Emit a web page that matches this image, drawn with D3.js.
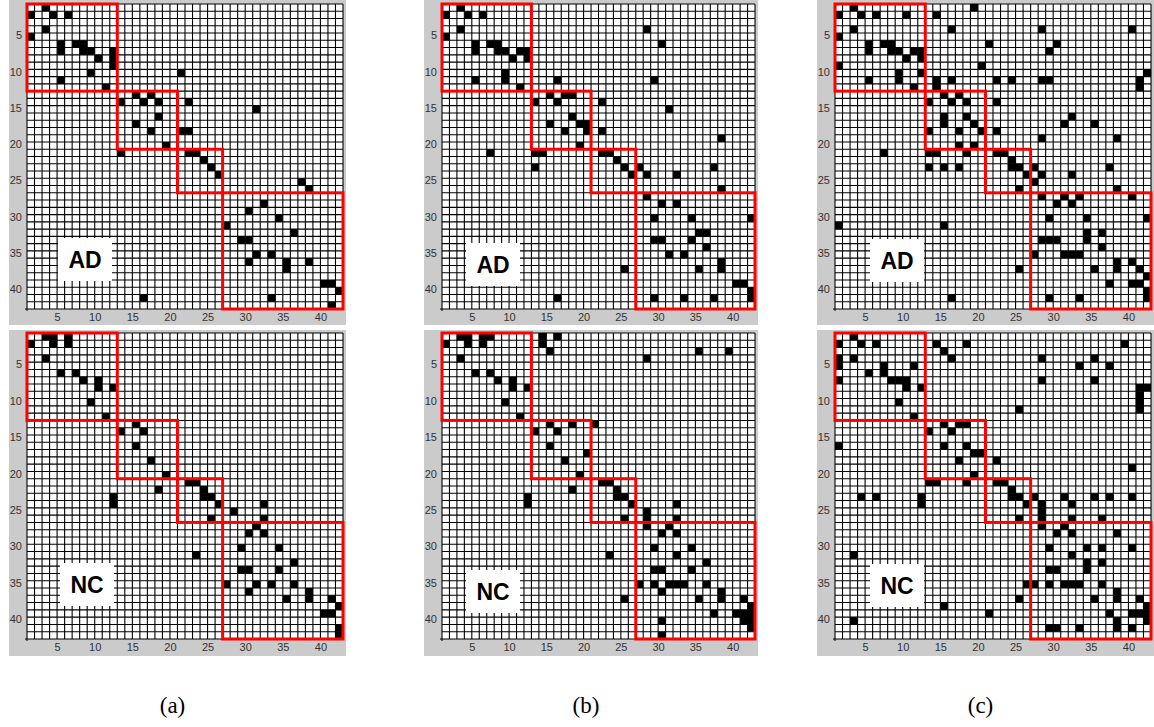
<!DOCTYPE html>
<html>
<head>
<meta charset="utf-8">
<script src="https://cdn.jsdelivr.net/npm/d3@7"></script>
<style>
body { margin: 0; background: #fff; }
svg { display: block; }
</style>
</head>
<body>
<svg id="fig" width="1154" height="727"></svg>
<script>

//black cells of each 42x42 matrix, [row, col], 1-based
var adA = [[1,3],[2,1],[2,4],[2,6],[4,3],[5,1],[6,5],[7,5],[6,7],[6,8],[7,8],[7,9],[8,10],[7,12],[8,12],[9,12],[10,9],[11,5],[12,11],[10,21],
  [14,13],[13,15],[14,16],[13,17],[14,18],[14,22],[15,31],[16,18],[17,15],[18,17],[18,21],[18,22],[20,19],[21,13],
  [21,22],[21,23],[22,24],[23,25],[24,26],[25,37],[26,38],
  [28,32],[29,30],[30,34],[31,27],[32,36],[33,29],[33,30],[35,31],[35,33],[36,30],[36,35],[37,35],[36,38],[39,40],[39,41],[40,42],[41,33],[42,41],[41,16]];

var ncA = [[2,1],[1,3],[1,4],[2,4],[1,6],[2,6],[4,3],[6,5],[6,7],[7,8],[7,10],[8,10],[8,12],[10,9],[12,11],
  [14,13],[13,15],[14,16],[16,15],[18,17],[20,19],[22,18],[23,12],[24,12],
  [21,22],[21,23],[22,24],[23,24],[23,25],[24,26],[26,25],[25,28],[24,32],[26,32],
  [27,31],[28,30],[28,32],[30,29],[30,34],[32,36],[33,29],[33,30],[33,34],[35,27],[35,31],[35,33],[35,36],[36,30],[37,35],[36,38],[37,38],[37,41],[39,40],[39,41],[38,42],[41,42],[42,42],[31,23]];

var adB = [[1,3],[2,1],[2,4],[2,6],[4,3],[5,1],[6,5],[7,5],[6,7],[6,8],[7,8],[7,9],[8,10],[7,11],[7,12],[8,12],[10,9],[11,9],[11,5],[12,11],[4,28],[6,30],[11,16],[11,29],
  [14,13],[13,15],[13,17],[13,18],[14,16],[14,22],[15,31],[16,18],[17,15],[17,19],[17,20],[18,17],[18,20],[18,22],[20,19],[19,38],[21,7],[21,13],[21,14],[23,13],
  [21,22],[21,23],[22,24],[23,25],[24,26],[23,27],[24,28],[24,32],[23,37],[26,38],
  [27,28],[28,30],[28,32],[30,29],[30,34],[30,42],[32,35],[32,36],[33,29],[33,30],[33,34],[34,36],[35,31],[35,33],[37,25],[37,35],[36,38],[37,38],[39,40],[39,41],[40,42],[41,42],[41,16],[41,29],[41,33],[41,37]];

var ncB = [[1,3],[1,4],[1,6],[1,7],[1,14],[1,16],[2,1],[2,4],[2,6],[2,14],[3,15],[3,35],[3,39],[4,3],[4,28],[6,5],[6,7],[7,8],[7,10],[8,10],[8,12],[10,9],[12,11],
  [13,15],[13,18],[13,21],[14,13],[14,16],[16,15],[17,20],[18,17],[20,19],
  [21,22],[21,23],[22,18],[22,24],[23,12],[23,24],[23,25],[24,12],[24,26],[24,32],[25,28],[26,25],[26,28],[26,32],
  [27,28],[27,31],[28,30],[28,32],[30,29],[30,34],[31,23],[31,32],[32,36],[33,29],[33,30],[33,34],[35,27],[35,29],[35,31],[35,32],[35,33],[35,36],[36,30],[36,38],
  [37,25],[37,35],[37,38],[37,41],[38,42],[39,37],[39,40],[39,41],[39,42],[40,41],[40,42],[40,30],[41,42],[42,30]];

var adC = [[1,3],[1,19],[2,1],[2,4],[2,6],[2,10],[2,14],[4,3],[4,16],[4,28],[4,40],[5,1],[6,5],[6,7],[6,8],[6,21],[6,30],[7,5],[7,8],[7,9],[7,11],[7,12],[7,29],
  [8,10],[8,12],[9,1],[9,20],[10,9],[10,12],[10,42],[11,5],[11,9],[11,14],[11,16],[11,22],[11,24],[11,28],[11,29],[11,41],[12,11],[12,14],[12,41],
  [13,15],[13,17],[14,13],[14,16],[14,18],[14,22],[16,15],[16,18],[16,32],[17,15],[17,19],[17,31],[17,35],[18,13],[18,17],[18,20],[18,22],[19,28],[19,38],[20,17],[20,19],
  [21,7],[21,13],[21,14],[21,18],[21,22],[21,23],[22,24],[23,13],[23,15],[23,17],[23,24],[23,25],[23,27],[23,37],[24,26],[24,28],[24,32],[25,27],[26,25],[26,38],
  [27,28],[27,31],[27,33],[27,40],[28,30],[28,32],[30,29],[30,34],[30,42],[31,1],[31,15],[32,34],[32,36],[33,28],[33,29],[33,30],[33,34],[34,36],
  [35,27],[35,31],[35,32],[35,33],[36,38],[36,40],[37,25],[37,35],[37,38],[37,41],[38,42],[39,37],[39,40],[39,41],[40,42],[41,42],[41,16],[41,29],[41,33]];

var ncC = [[1,3],[2,1],[2,4],[2,6],[2,14],[2,18],[2,39],[3,15],[4,1],[4,3],[4,16],[4,28],[4,35],[5,1],[5,7],[5,11],[5,33],[5,37],[6,5],[6,7],
  [7,1],[7,8],[7,9],[7,10],[7,28],[7,35],[8,10],[8,12],[8,41],[8,42],[9,41],[10,9],[10,41],[11,25],[11,41],[12,11],
  [13,15],[13,17],[13,18],[14,13],[14,16],[16,1],[16,15],[16,18],[17,19],[17,20],[18,17],[18,22],[19,40],[20,19],
  [21,13],[21,14],[21,18],[21,22],[21,23],[22,24],[23,4],[23,6],[23,12],[23,24],[23,25],[23,27],[23,31],[23,35],[23,37],[23,40],
  [24,12],[24,26],[24,28],[24,32],[25,28],[26,25],[26,28],[26,32],[26,36],[27,28],[27,31],[28,30],[28,32],[28,38],
  [30,29],[30,34],[30,36],[30,40],[31,3],[31,32],[32,34],[32,36],[33,29],[33,30],[33,34],
  [35,26],[35,27],[35,29],[35,31],[35,32],[35,33],[35,36],[36,38],[37,25],[37,35],[37,38],[37,41],[38,15],[38,42],
  [39,21],[39,37],[39,40],[39,41],[39,42],[40,3],[40,38],[40,42],[41,29],[41,30],[41,33],[41,38],[41,40]];

var N = 42;
var tickVals = [5, 10, 15, 20, 25, 30, 35, 40];
var blockEdges = [0, 12, 20, 26, 42];   //red boxes along the diagonal
var groups = ["AD", "NC"];
var captions = ["(a)", "(b)", "(c)"];
var matrices = [[adA, ncA], [adB, ncB], [adC, ncC]];

//where each grid sits on the page
var colPos = [{x0: 27, x1: 343}, {x0: 442, x1: 755}, {x0: 835, x1: 1151}];
var rowPos = [{y0: 4, y1: 309, bg0: 0, bg1: 325}, {y0: 333, y1: 639, bg0: 330, bg1: 656}];
//white label box offset from grid corner (px)
var boxOff = [[[31, 234], [33, 230]], [[24, 239], [24, 237]], [[35, 235], [35, 231]]];

var svg = d3.select("#fig");

for (var ci = 0; ci < 3; ci++) {
  for (var ri = 0; ri < 2; ri++) {
    drawPanel(colPos[ci], rowPos[ri], matrices[ci][ri], groups[ri], boxOff[ci][ri]);
  }
  svg.append("text")
    .attr("x", (colPos[ci].x0 - 18 + colPos[ci].x1 + 3) / 2 - 5)
    .attr("y", 713)
    .attr("text-anchor", "middle")
    .style("font-family", "'Liberation Serif', 'Times New Roman', serif")
    .style("font-size", "23px")
    .text(captions[ci]);
}

function drawPanel(cp, rp, cells, label, off) {
  var g = svg.append("g");

  //band scales for cells, linear ones for lines
  var xb = d3.scaleBand().domain(d3.range(1, N + 1)).range([cp.x0, cp.x1]);
  var yb = d3.scaleBand().domain(d3.range(1, N + 1)).range([rp.y0, rp.y1]);
  var xl = d3.scaleLinear().domain([0, N]).range([cp.x0, cp.x1]);
  var yl = d3.scaleLinear().domain([0, N]).range([rp.y0, rp.y1]);

  //grey frame
  g.append("rect")
    .attr("x", cp.x0 - 18).attr("y", rp.bg0)
    .attr("width", cp.x1 - cp.x0 + 21).attr("height", rp.bg1 - rp.bg0)
    .attr("fill", "#cbcbcb");
  g.append("rect")
    .attr("x", cp.x0).attr("y", rp.y0)
    .attr("width", cp.x1 - cp.x0).attr("height", rp.y1 - rp.y0)
    .attr("fill", "#fff");

  g.selectAll(".cell").data(cells).enter().append("rect")
    .attr("class", "cell")
    .attr("x", function(d) { return xb(d[1]); })
    .attr("y", function(d) { return yb(d[0]); })
    .attr("width", xb.bandwidth())
    .attr("height", yb.bandwidth())
    .attr("fill", "#000");

  //grid
  var idx = d3.range(0, N + 1);
  g.selectAll(".vl").data(idx).enter().append("line")
    .attr("x1", function(d) { return xl(d); }).attr("x2", function(d) { return xl(d); })
    .attr("y1", rp.y0).attr("y2", rp.y1)
    .attr("stroke", "#000").attr("stroke-width", 1.1);
  g.selectAll(".hl").data(idx).enter().append("line")
    .attr("y1", function(d) { return yl(d); }).attr("y2", function(d) { return yl(d); })
    .attr("x1", cp.x0).attr("x2", cp.x1)
    .attr("stroke", "#000").attr("stroke-width", 1.1);

  //corner tick
  g.append("path")
    .attr("d", "M" + (cp.x0 - 2) + "," + rp.y1 + "H" + cp.x0 + "V" + (rp.y1 + 2))
    .attr("stroke", "#000").attr("fill", "none");

  //diagonal blocks
  for (var k = 0; k < blockEdges.length - 1; k++) {
    var a = blockEdges[k], b = blockEdges[k + 1];
    g.append("rect")
      .attr("x", xl(a)).attr("y", yl(a))
      .attr("width", xl(b) - xl(a)).attr("height", yl(b) - yl(a))
      .attr("fill", "none")
      .attr("stroke", "#ff0000")
      .attr("stroke-width", 3);
  }

  //group label
  g.append("rect")
    .attr("x", cp.x0 + off[0]).attr("y", rp.y0 + off[1])
    .attr("width", 54).attr("height", 43)
    .attr("fill", "#fff");
  g.append("text")
    .attr("x", cp.x0 + off[0] + 27).attr("y", rp.y0 + off[1] + 30)
    .attr("text-anchor", "middle")
    .style("font-family", "'Liberation Sans', Arial, sans-serif")
    .style("font-weight", "bold")
    .style("font-size", "23px")
    .text(label);

  //axes
  var yAxis = d3.axisLeft(yb).tickValues(tickVals).tickSize(0).tickPadding(5);
  var xAxis = d3.axisBottom(d3.scaleLinear().domain([1, N + 1]).range([cp.x0, cp.x1]))
    .tickValues(tickVals).tickSize(0).tickPadding(4);

  var ya = g.append("g").attr("transform", "translate(" + cp.x0 + ",-1)").call(yAxis);
  var xa = g.append("g").attr("transform", "translate(0," + rp.y1 + ")").call(xAxis);
  [ya, xa].forEach(function(ax) {
    ax.select(".domain").remove();
    ax.selectAll("text")
      .style("font-family", "'Liberation Sans', Arial, sans-serif")
      .style("font-size", "11px")
      .attr("fill", "#333");
  });
}

</script>
</body>
</html>
